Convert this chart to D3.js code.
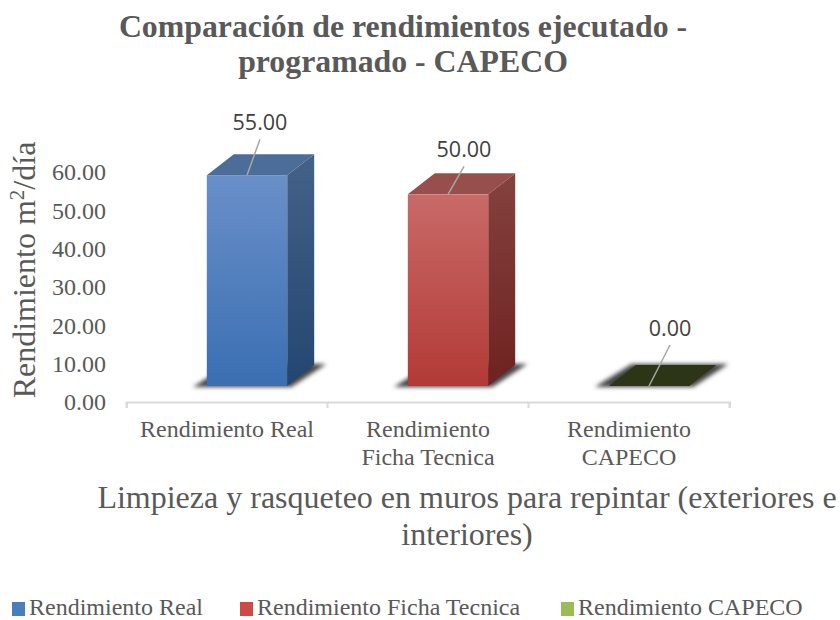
<!DOCTYPE html>
<html>
<head>
<meta charset="utf-8">
<script src="https://cdn.jsdelivr.net/npm/d3@7"></script>
<style>
  html, body { margin: 0; padding: 0; background: #fff; }
  text { font-family: "Liberation Serif", serif; fill: #595959; }
  .label { font-family: "Open Sans", sans-serif; font-size: 21.5px; fill: #404040; }
</style>
</head>
<body>
<div id="chart"></div>
<script>
// chart data
var categories = ["Rendimiento Real", "Rendimiento Ficha Tecnica", "Rendimiento CAPECO"];
var values = [55, 50, 0];
var yTicks = [0, 10, 20, 30, 40, 50, 60];
var titleLines = ["Comparación de rendimientos ejecutado -", "programado - CAPECO"];
var xTitleLines = ["Limpieza y rasqueteo en muros para repintar (exteriores e", "interiores)"];
var categoryLines = [["Rendimiento Real"], ["Rendimiento", "Ficha Tecnica"], ["Rendimiento", "CAPECO"]];

// colors: front top, front bottom, top face, side top, side bottom
var colors = [
    {light: "#6a8fc9", dark: "#3a6fb2", top: "#4d6d99", sideA: "#456188", sideB: "#234670", legend: "#4a7ebb"},
    {light: "#c96a68", dark: "#b23a36", top: "#964f4c", sideA: "#84423f", sideB: "#6f2220", legend: "#cd4a47"},
    {light: "#2c3516", dark: "#2c3516", top: "#2c3516", sideA: "#2c3516", sideB: "#2c3516", legend: "#9bbb59"}
];

// set the dimensions
var width = 840, height = 620;
var depthX = 27, depthY = -21, floorOffset = -16;

// set the ranges
var x = d3.scaleBand().domain(categories).range([126.5, 729.5]);
var y = d3.scaleLinear().domain([0, 60]).range([402, 172]);
var barWidth = x.bandwidth() * 0.4;
var barShift = 20;

// leader line ends, relative to the middle of the bar top
var leaderEnds = [[13, -36], [16, -28], [21, -41]];

var svg = d3.select("#chart").append("svg")
    .attr("width", width)
    .attr("height", height);

var defs = svg.append("defs");
defs.append("filter").attr("id", "blur")
    .attr("x", "-20%").attr("y", "-50%").attr("width", "140%").attr("height", "200%")
  .append("feGaussianBlur").attr("stdDeviation", 2.2);

colors.forEach(function(c, i) {
    var front = defs.append("linearGradient").attr("id", "front" + i)
        .attr("x1", 0).attr("y1", 0).attr("x2", 0).attr("y2", 1);
    front.append("stop").attr("offset", "0%").attr("stop-color", c.light);
    front.append("stop").attr("offset", "100%").attr("stop-color", c.dark);
    var side = defs.append("linearGradient").attr("id", "side" + i)
        .attr("x1", 0).attr("y1", 0).attr("x2", 0).attr("y2", 1);
    side.append("stop").attr("offset", "0%").attr("stop-color", c.sideA);
    side.append("stop").attr("offset", "100%").attr("stop-color", c.sideB);
});

// title
svg.append("text")
    .attr("text-anchor", "middle")
    .style("font-size", "31.8px").style("font-weight", "bold")
    .selectAll("tspan").data(titleLines).enter().append("tspan")
    .attr("x", 403)
    .attr("y", function(d, i) { return 37 + i * 35; })
    .text(function(d) { return d; });

// y axis
var yAxis = svg.append("g")
    .attr("transform", "translate(106,0)")
    .call(d3.axisLeft(y).tickValues(yTicks).tickSize(0).tickPadding(0).tickFormat(d3.format(".2f")));
yAxis.select(".domain").remove();
yAxis.selectAll("text").style("font-size", "24px").style("font-family", "Liberation Serif").attr("fill", "#595959");

var yTitle = svg.append("text")
    .attr("transform", "translate(35,270) rotate(-90)")
    .attr("text-anchor", "middle")
    .style("font-size", "32px");
yTitle.append("tspan").text("Rendimiento m");
yTitle.append("tspan").attr("dy", -11).style("font-size", "21px").text("2");
yTitle.append("tspan").attr("dy", 11).text("/día");

// x axis
var xAxis = svg.append("g")
    .attr("transform", "translate(0," + y(0) + ")")
    .call(d3.axisBottom(x).tickSizeOuter(6).tickSizeInner(0).tickFormat(""));
xAxis.select(".domain").attr("stroke", "#d9d9d9").attr("stroke-width", 2);
xAxis.selectAll(".tick").remove();
xAxis.selectAll("line.sep").data(x.range().concat(categories.slice(1).map(function(d) { return x(d); })))
    .enter().append("line").attr("class", "sep")
    .attr("x1", function(d) { return d; }).attr("x2", function(d) { return d; })
    .attr("y1", 0).attr("y2", 6)
    .attr("stroke", "#d9d9d9").attr("stroke-width", 2);

svg.append("g").selectAll("text").data(categoryLines).enter().append("text")
    .attr("text-anchor", "middle")
    .style("font-size", "24px")
    .each(function(lines, i) {
        d3.select(this).selectAll("tspan").data(lines).enter().append("tspan")
            .attr("x", x(categories[i]) + x.bandwidth() / 2)
            .attr("y", function(d, k) { return 437 + k * 28; })
            .text(function(d) { return d; });
    });

// bars
var line = d3.line();
var bars = svg.append("g").selectAll("g").data(values).enter().append("g");

bars.each(function(v, i) {
    var g = d3.select(this);
    var x0 = x(categories[i]) + barShift + (x.bandwidth() - barWidth) / 2;
    var x1 = x0 + barWidth;
    var yb = y(0) + floorOffset;
    var yt = y(v) + floorOffset;

    // floor shadow
    g.append("path")
        .attr("d", line([[x0 - 14, yb + 1], [x1 + 4, yb + 1], [x1 + depthX + 12, yb + depthY - 1], [x0 + depthX - 4, yb + depthY - 1]]) + "Z")
        .attr("fill", "#444")
        .attr("filter", "url(#blur)");

    // top face
    g.append("path")
        .attr("d", line([[x0, yt], [x1, yt], [x1 + depthX, yt + depthY], [x0 + depthX, yt + depthY]]) + "Z")
        .attr("fill", colors[i].top);

    if (v > 0) {
        g.append("path")
            .attr("d", line([[x1, yt], [x1 + depthX, yt + depthY], [x1 + depthX, yb + depthY], [x1, yb]]) + "Z")
            .attr("fill", "url(#side" + i + ")");
        g.append("rect")
            .attr("x", x0).attr("y", yt)
            .attr("width", barWidth).attr("height", yb - yt)
            .attr("fill", "url(#front" + i + ")");
    }

    // leader and label
    var mx = x0 + barWidth / 2;
    var end = leaderEnds[i];
    g.append("line")
        .attr("x1", mx).attr("y1", yt)
        .attr("x2", mx + end[0]).attr("y2", yt + end[1])
        .attr("stroke", "#a6a6a6").attr("stroke-width", 1.5);
    g.append("text").attr("class", "label")
        .attr("x", mx + end[0])
        .attr("y", yt + end[1] - 9)
        .attr("text-anchor", "middle")
        .text(d3.format(".2f")(v));
});

// x axis title
svg.append("text")
    .attr("text-anchor", "middle")
    .style("font-size", "32px")
    .selectAll("tspan").data(xTitleLines).enter().append("tspan")
    .attr("x", 467)
    .attr("y", function(d, i) { return 508 + i * 37; })
    .text(function(d) { return d; });

// legend
var legendX = [12, 240, 561];
var legend = svg.append("g").selectAll("g").data(categories).enter().append("g")
    .attr("transform", function(d, i) { return "translate(" + legendX[i] + ",614.5)"; });
legend.append("rect")
    .attr("y", -12.5).attr("width", 13).attr("height", 14)
    .attr("fill", function(d, i) { return colors[i].legend; });
legend.append("text")
    .attr("x", 17).attr("y", 0)
    .style("font-size", "24px")
    .text(function(d) { return d; });
</script>
</body>
</html>
